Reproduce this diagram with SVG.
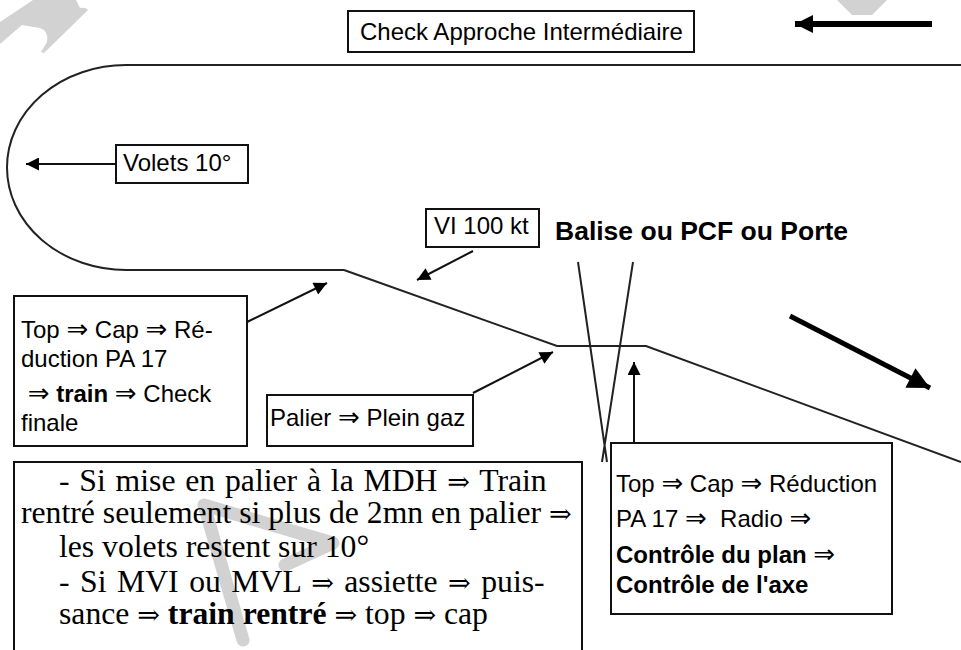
<svg xmlns="http://www.w3.org/2000/svg" width="961" height="650" viewBox="0 0 961 650">
<defs>
<style>
.box{fill:#fff;stroke:#111;stroke-width:2}
.sans{font-family:"Liberation Sans",Arial,"DejaVu Sans",sans-serif;font-size:24px;fill:#000}
.big{font-size:26.5px}
.serif{font-family:"Liberation Serif","Times New Roman","DejaVu Serif",serif;font-size:31.7px;fill:#000}
.b{font-weight:bold}
.pre{white-space:pre}
.ar{font-family:"DejaVu Sans",sans-serif;font-size:26px;font-weight:normal}
.ars{font-family:"DejaVu Serif",serif;font-size:27px;font-weight:normal}
.track{fill:none;stroke:#222;stroke-width:2}
.lead{fill:none;stroke:#111;stroke-width:2}
.wm{fill:#d2d2d2}
.wms{fill:none;stroke:#d2d2d2;stroke-linecap:round;stroke-linejoin:round}
</style>
<marker id="ah" viewBox="0 0 10 10" refX="10" refY="5" markerWidth="20" markerHeight="13" markerUnits="userSpaceOnUse" orient="auto"><path d="M0,0 L10,5 L0,10 Z" fill="#000"/></marker>
<marker id="ahBig" viewBox="0 0 10 10" refX="10" refY="5" markerWidth="48" markerHeight="18" markerUnits="userSpaceOnUse" orient="auto"><path d="M0,0 L10,5 L0,10 Z" fill="#000"/></marker>
<marker id="ahDiag" viewBox="0 0 10 10" refX="10" refY="5" markerWidth="54" markerHeight="22" markerUnits="userSpaceOnUse" orient="auto"><path d="M0,0 L10,5 L0,10 Z" fill="#000"/></marker>
</defs>

<g id="watermark">
<path class="wm" d="M0,44 L0,22 L12,14 L33,0 L76,0 L80,8 Q86,7 88,10 L44,53 L41,52 L47,42 Q49,31 40,28 L22,25 Z"/>
<path class="wm" d="M837,0 L887,0 L872,15 L852,15 Z"/>
<path class="wms" stroke-width="13" d="M243,640 L204,505 L333,543 L285,565"/>
</g>

<g id="connectors">
<path class="track" d="M344,270 L126,270 A119,102.5 0 0 1 126,65"/>
<path class="track" stroke="#444" d="M126,65 L961,65"/>
<path class="track" d="M344,270 L557,346 L646,346 L961,462"/>
<path class="track" d="M578,262 L607,462 M633,262 L602,462"/>
<line class="lead" x1="116" y1="164" x2="26" y2="164" marker-end="url(#ah)"/>
<line class="lead" x1="473" y1="251" x2="417" y2="280" marker-end="url(#ah)"/>
<line class="lead" x1="247" y1="322" x2="327" y2="283" marker-end="url(#ah)"/>
<line class="lead" x1="473" y1="393" x2="553" y2="352" marker-end="url(#ah)"/>
<line class="lead" x1="634" y1="443" x2="634" y2="362" marker-end="url(#ah)"/>
<line stroke="#000" stroke-width="6" x1="932" y1="24" x2="795" y2="24" marker-end="url(#ahBig)"/>
<line stroke="#000" stroke-width="5" x1="790" y1="316" x2="930" y2="388" marker-end="url(#ahDiag)"/>
</g>

<g id="check-approche">
<rect class="box" x="348" y="11" width="346" height="41"/>
<text class="sans" x="360" y="40">Check Approche Intermédiaire</text>
</g>

<g id="volets">
<rect class="box" x="116" y="145" width="132" height="38"/>
<text class="sans" x="123" y="171">Volets 10°</text>
</g>

<g id="vi100">
<rect class="box" x="426" y="209" width="113" height="38"/>
<text class="sans" x="434" y="234">VI 100 kt</text>
</g>

<g id="balise">
<text class="sans b big" x="555" y="240">Balise ou PCF ou Porte</text>
</g>

<g id="top-cap-left">
<rect class="box" x="14" y="296" width="233" height="150"/>
<text class="sans" x="21" y="338">Top <tspan class="ar">⇒</tspan> Cap <tspan class="ar">⇒</tspan> Ré-</text>
<text class="sans" x="21" y="367">duction PA 17</text>
<text class="sans pre" x="21" y="402"> <tspan class="ar">⇒</tspan> <tspan class="b">train</tspan> <tspan class="ar">⇒</tspan> Check</text>
<text class="sans" x="21" y="431">finale</text>
</g>

<g id="palier">
<rect class="box" x="267" y="395" width="206" height="51"/>
<text class="sans" x="270" y="426">Palier <tspan class="ar">⇒</tspan> Plein gaz</text>
</g>

<g id="note-box">
<rect class="box" style="fill:none" x="14" y="462" width="568" height="200"/>
<text class="serif" x="59" y="491" word-spacing="1.9">- Si mise en palier à la MDH <tspan class="ars">⇒</tspan> Train</text>
<text class="serif" x="21" y="523">rentré seulement si plus de 2mn en palier <tspan class="ars">⇒</tspan></text>
<text class="serif" x="59" y="557">les volets restent sur 10°</text>
<text class="serif" x="59" y="592" word-spacing="2.6">- Si MVI ou MVL <tspan class="ars">⇒</tspan> assiette <tspan class="ars">⇒</tspan> puis-</text>
<text class="serif" x="59" y="624">sance <tspan class="ars">⇒</tspan> <tspan class="b">train rentré</tspan> <tspan class="ars">⇒</tspan> top <tspan class="ars">⇒</tspan> cap</text>
</g>

<g id="top-cap-right">
<rect class="box" x="611" y="443" width="281" height="171"/>
<text class="sans" x="616" y="492">Top <tspan class="ar">⇒</tspan> Cap <tspan class="ar">⇒</tspan> Réduction</text>
<text class="sans pre" x="616" y="527">PA 17 <tspan class="ar">⇒</tspan>  Radio <tspan class="ar">⇒</tspan></text>
<text class="sans b" x="616" y="563">Contrôle du plan <tspan class="ar">⇒</tspan></text>
<text class="sans b" x="616" y="593">Contrôle de l'axe</text>
</g>
</svg>
